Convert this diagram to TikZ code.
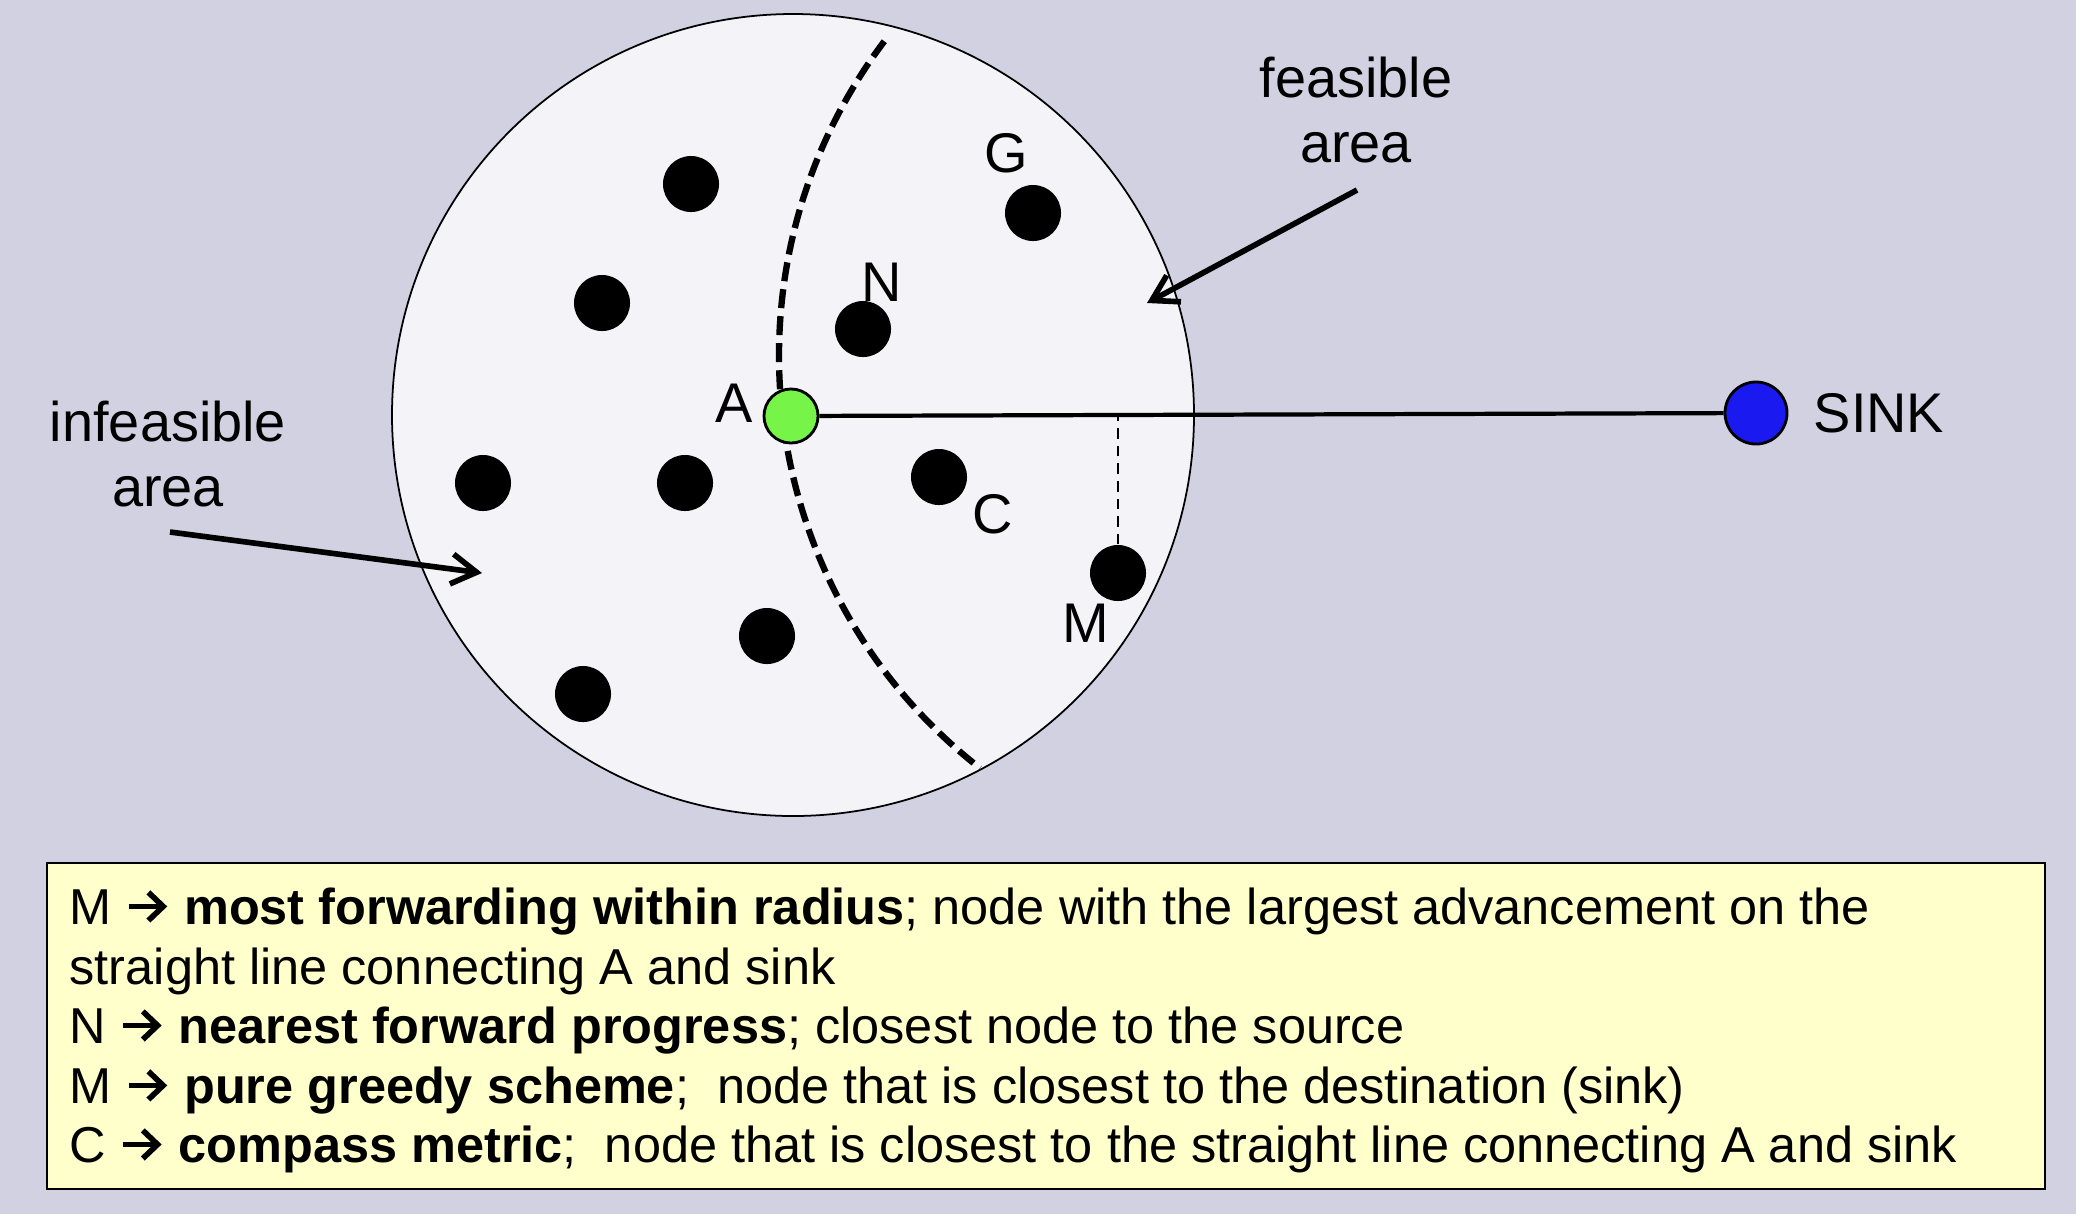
\documentclass[tikz,border=0pt]{standalone}
\usepackage{fontspec}
\setmainfont{Liberation Sans}
\usetikzlibrary{arrows.meta}
\definecolor{bgcol}{RGB}{209,209,225}
\definecolor{areacol}{RGB}{243,243,248}
\definecolor{notecol}{RGB}{255,255,204}
\definecolor{srccol}{RGB}{118,245,72}
\definecolor{sinkcol}{RGB}{26,26,240}
\tikzset{
  dot/.style={circle,fill=black,inner sep=0pt,minimum size=0.56cm},
  lbl/.style={font=\fontsize{15.9}{18.5}\selectfont,inner sep=0pt},
  note/.style={font=\fontsize{14.35}{17}\selectfont,inner sep=0pt,anchor=base west},
  pointer/.style={line width=1.6pt,-{Straight Barb[length=0.25cm,width=0.3cm]}}
}
\newcommand{\fwd}{\tikz[baseline={(0pt,-5pt)}]\draw[line width=1.6pt,-{Straight Barb[length=4.2pt,width=8pt]}] (0pt,0pt) -- (11pt,0pt);}
\begin{document}
\begin{tikzpicture}[x=0.01cm,y=-0.01cm]
\fill[bgcol] (0,0) rectangle (2076,1214);
\useasboundingbox (0,0) rectangle (2076,1214);
\filldraw[fill=areacol,draw=black,line width=0.5pt] (793,415) circle[radius=401];
\draw[line width=1.8pt,dash pattern=on 5.4pt off 2.3pt] (1302,356) ++(217:523) arc[start angle=217,end angle=128,radius=523];
\node[circle,draw,fill=srccol,line width=0.8pt,minimum size=0.54cm,inner sep=0pt] (A) at (791,416) {};
\node[circle,draw,fill=sinkcol,line width=0.8pt,minimum size=0.62cm,inner sep=0pt] (sink) at (1756,413) {};
\draw[line width=1.2pt] (A) -- (sink);
\node[dot] (d1) at (691,184) {};
\node[dot] (d2) at (602,303) {};
\node[dot] (G) at (1033,213) {};
\node[dot] (N) at (863,329) {};
\node[dot] (d3) at (483,483) {};
\node[dot] (d4) at (685,483) {};
\node[dot] (C) at (939,477) {};
\node[dot] (M) at (1118,573) {};
\node[dot] (d5) at (767,636) {};
\node[dot] (d6) at (583,694) {};
\draw[densely dashed,line width=0.5pt] (M) -- (M |- A);
\node[lbl,anchor=base] (Alabel) at (734,422) {A};
\node[lbl,anchor=base] (Nlabel) at (882,301) {N};
\node[lbl,anchor=base] (Glabel) at (1006,172) {G};
\node[lbl,anchor=base] (Clabel) at (993,533) {C};
\node[lbl,anchor=base] (Mlabel) at (1086,642) {M};
\node[lbl,anchor=base west] (sinklabel) at (1813,432) {SINK};
\node[lbl,align=center] (infeas) at (168,454) {infeasible\\area};
\node[lbl,align=center] (feas) at (1356,110) {feasible\\area};
\coordinate (t1) at (170,532);
\coordinate (h1) at (482,573);
\coordinate (t2) at (1357,190);
\coordinate (h2) at (1147,303);
\draw[pointer] (t1) -- (h1);
\draw[pointer] (t2) -- (h2);
\node[draw,fill=notecol,line width=0.6pt,minimum width=19.97cm,minimum height=3.26cm,anchor=north west,inner sep=0pt] (box) at (46,862) {};
\node[note] (l1) at (69,924) {M \fwd{} \textbf{most forwarding within radius}; node with the largest advancement on the};
\node[note] (l2) at (69,984) {straight line connecting A and sink};
\node[note] (l3) at (69,1043) {N \fwd{} \textbf{nearest forward progress}; closest node to the source};
\node[note] (l4) at (69,1103) {M \fwd{} \textbf{pure greedy scheme};\ \ node that is closest to the destination (sink)};
\node[note] (l5) at (69,1162) {C \fwd{} \textbf{compass metric};\ \ node that is closest to the straight line connecting A and sink};
\end{tikzpicture}
\end{document}
